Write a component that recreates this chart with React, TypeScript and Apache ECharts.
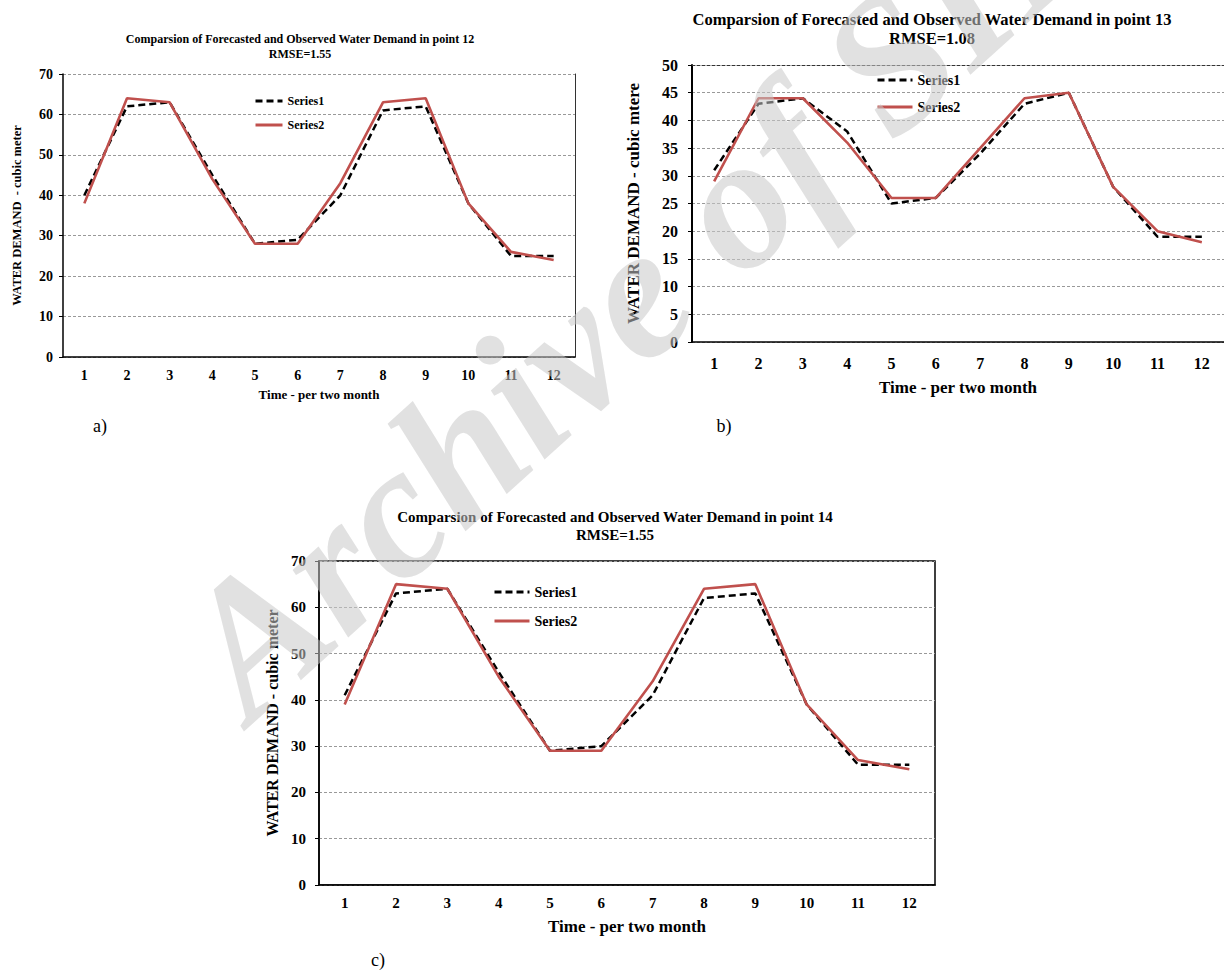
import React, { useEffect, useRef } from "react";
import * as echarts from "echarts";

const categories = ["1", "2", "3", "4", "5", "6", "7", "8", "9", "10", "11", "12"];
const seriesNames = ["Series1", "Series2"];

const p12Series1 = [40, 62, 63, 45, 28, 29, 40, 61, 62, 38, 25, 25];
const p12Series2 = [38, 64, 63, 44, 28, 28, 43, 63, 64, 38, 26, 24];
const p13Series1 = [31, 43, 44, 38, 25, 26, 34, 43, 45, 28, 19, 19];
const p13Series2 = [29, 44, 44, 36, 26, 26, 35, 44, 45, 28, 20, 18];
const p14Series1 = [41, 63, 64, 46, 29, 30, 41, 62, 63, 39, 26, 26];
const p14Series2 = [39, 65, 64, 45, 29, 29, 44, 64, 65, 39, 27, 25];

const titles = [
  "Comparsion of Forecasted and Observed Water Demand in point 12\nRMSE=1.55",
  "Comparsion of Forecasted and Observed Water Demand in point 13\nRMSE=1.08",
  "Comparsion of Forecasted and Observed Water Demand in point 14\nRMSE=1.55",
];
const yNames = [
  "WATER DEMAND  - cubic meter",
  "WATER DEMAND - cubic mtere",
  "WATER DEMAND - cubic meter",
];
const xName = "Time - per two month";
const panelLabels = ["a)", "b)", "c)"];
const watermark = "Archive of SID";

const FONT = '"Liberation Serif", "Times New Roman", serif';
const RED = "#c0504d";

function lineSeries(name: string, data: number[], idx: number, dashed: boolean) {
  return {
    type: "line",
    name,
    data,
    xAxisIndex: idx,
    yAxisIndex: idx,
    symbol: "none",
    showSymbol: false,
    lineStyle: dashed
      ? { color: "#000", width: 2.5, type: [7, 4] }
      : { color: RED, width: 2.6 },
    itemStyle: { color: dashed ? "#000" : RED },
    z: dashed ? 3 : 4,
  };
}

function xAx(gridIndex: number, fs: number, margin: number, nameFs: number, nameGap: number) {
  return {
    type: "category",
    gridIndex,
    data: categories,
    axisLine: { show: true, lineStyle: { color: "#000", width: 1.5 } },
    axisTick: { show: false },
    axisLabel: { fontFamily: FONT, fontWeight: "bold", fontSize: fs, color: "#000", margin },
    splitLine: { show: false },
    name: xName,
    nameLocation: "middle",
    nameGap,
    nameTextStyle: { fontFamily: FONT, fontWeight: "bold", fontSize: nameFs, color: "#000" },
  };
}

function yAx(gridIndex: number, max: number, interval: number, fs: number, margin: number, name: string, nameFs: number, nameGap: number, lw: number) {
  return {
    type: "value",
    gridIndex,
    min: 0,
    max,
    interval,
    axisLine: { show: true, lineStyle: { color: "#000", width: lw } },
    axisTick: { show: true, length: 4, lineStyle: { color: "#000", width: 1 } },
    axisLabel: { fontFamily: FONT, fontWeight: "bold", fontSize: fs, color: "#000", margin },
    splitLine: { show: true, lineStyle: { color: "#999", width: 1, type: [3, 2] } },
    name,
    nameLocation: "middle",
    nameGap,
    nameTextStyle: { fontFamily: FONT, fontWeight: "bold", fontSize: nameFs, color: "#000" },
  };
}

function legend(left: number, top: number, fs: number, iw: number, gap: number) {
  return {
    data: seriesNames,
    orient: "vertical",
    left,
    top,
    padding: 0,
    itemWidth: iw,
    itemHeight: 14,
    itemGap: gap,
    selectedMode: false,
    itemStyle: { opacity: 0 },
    lineStyle: { width: 3 },
    textStyle: { fontFamily: FONT, fontWeight: "bold", fontSize: fs, color: "#000" },
  };
}

function titleText(text: string, x: number, y: number, fs: number, lh: number) {
  return {
    type: "text",
    x,
    y,
    style: {
      text,
      fontFamily: FONT,
      fontWeight: "bold",
      fontSize: fs,
      lineHeight: lh,
      fill: "#000",
      align: "center",
      verticalAlign: "top",
    },
  };
}

function plainText(text: string, x: number, y: number) {
  return {
    type: "text",
    x,
    y,
    style: {
      text,
      fontFamily: FONT,
      fontSize: 18,
      fill: "#000",
      align: "center",
      verticalAlign: "middle",
    },
  };
}

export default function App() {
  const ref = useRef<HTMLDivElement>(null);

  useEffect(() => {
    if (!ref.current) return;
    const chart = echarts.init(ref.current, null, { renderer: "svg" });
    const option: any = {
      animation: false,
      backgroundColor: "#fff",
      grid: [
        { left: 63, top: 74, width: 512, height: 283 },
        { left: 692, top: 65, width: 540, height: 277 },
        { left: 319, top: 561, width: 616, height: 324, show: true, borderColor: "#000", borderWidth: 1.5 },
      ],
      xAxis: [
        xAx(0, 14, 11, 13, 31),
        xAx(1, 16, 13, 17, 37),
        xAx(2, 15, 10, 17, 33),
        {
          type: "category",
          gridIndex: 1,
          position: "top",
          data: categories,
          axisLine: { show: true, lineStyle: { color: "#333", width: 1, type: [3, 2] } },
          axisTick: { show: false },
          axisLabel: { show: false },
          splitLine: { show: false },
        },
      ],
      yAxis: [
        yAx(0, 70, 10, 14, 10, yNames[0], 12.5, 40, 1.5),
        yAx(1, 50, 5, 16, 14, yNames[1], 17, 50, 2),
        yAx(2, 70, 10, 15, 13, yNames[2], 16, 32, 1.5),
        {
          type: "value",
          gridIndex: 0,
          position: "right",
          min: 0,
          max: 70,
          interval: 10,
          axisLine: { show: true, lineStyle: { color: "#333", width: 1 } },
          axisTick: { show: false },
          axisLabel: { show: false },
          splitLine: { show: false },
        },
      ],
      legend: [
        legend(254, 95, 12, 27, 12),
        legend(876, 73, 14, 35, 13),
        legend(493, 585, 14, 35, 15),
      ],
      series: [
        lineSeries("Series1", p12Series1, 0, true),
        lineSeries("Series2", p12Series2, 0, false),
        lineSeries("Series1", p13Series1, 1, true),
        lineSeries("Series2", p13Series2, 1, false),
        lineSeries("Series1", p14Series1, 2, true),
        lineSeries("Series2", p14Series2, 2, false),
      ],
      graphic: [
        titleText(titles[0], 300, 31, 12, 15),
        titleText(titles[1], 932, 10, 16.5, 19),
        titleText(titles[2], 615, 508, 15, 18),
        plainText(panelLabels[0], 100, 426),
        plainText(panelLabels[1], 724, 426),
        plainText(panelLabels[2], 378, 960),
        {
          type: "text",
          x: 272,
          y: 748,
          rotation: 0.735,
          z: 100,
          style: {
            text: watermark,
            fontFamily: FONT,
            fontStyle: "italic",
            fontWeight: "bold",
            fontSize: 190,
            fill: "#c8c8c8",
            opacity: 0.55,
            align: "left",
            verticalAlign: "bottom",
          },
        },
      ],
    };
    chart.setOption(option);
    return () => chart.dispose();
  }, []);

  return (
    <div
      ref={ref}
      style={{ position: "absolute", left: 0, top: 0, width: 1224, height: 971, background: "#fff" }}
    />
  );
}
